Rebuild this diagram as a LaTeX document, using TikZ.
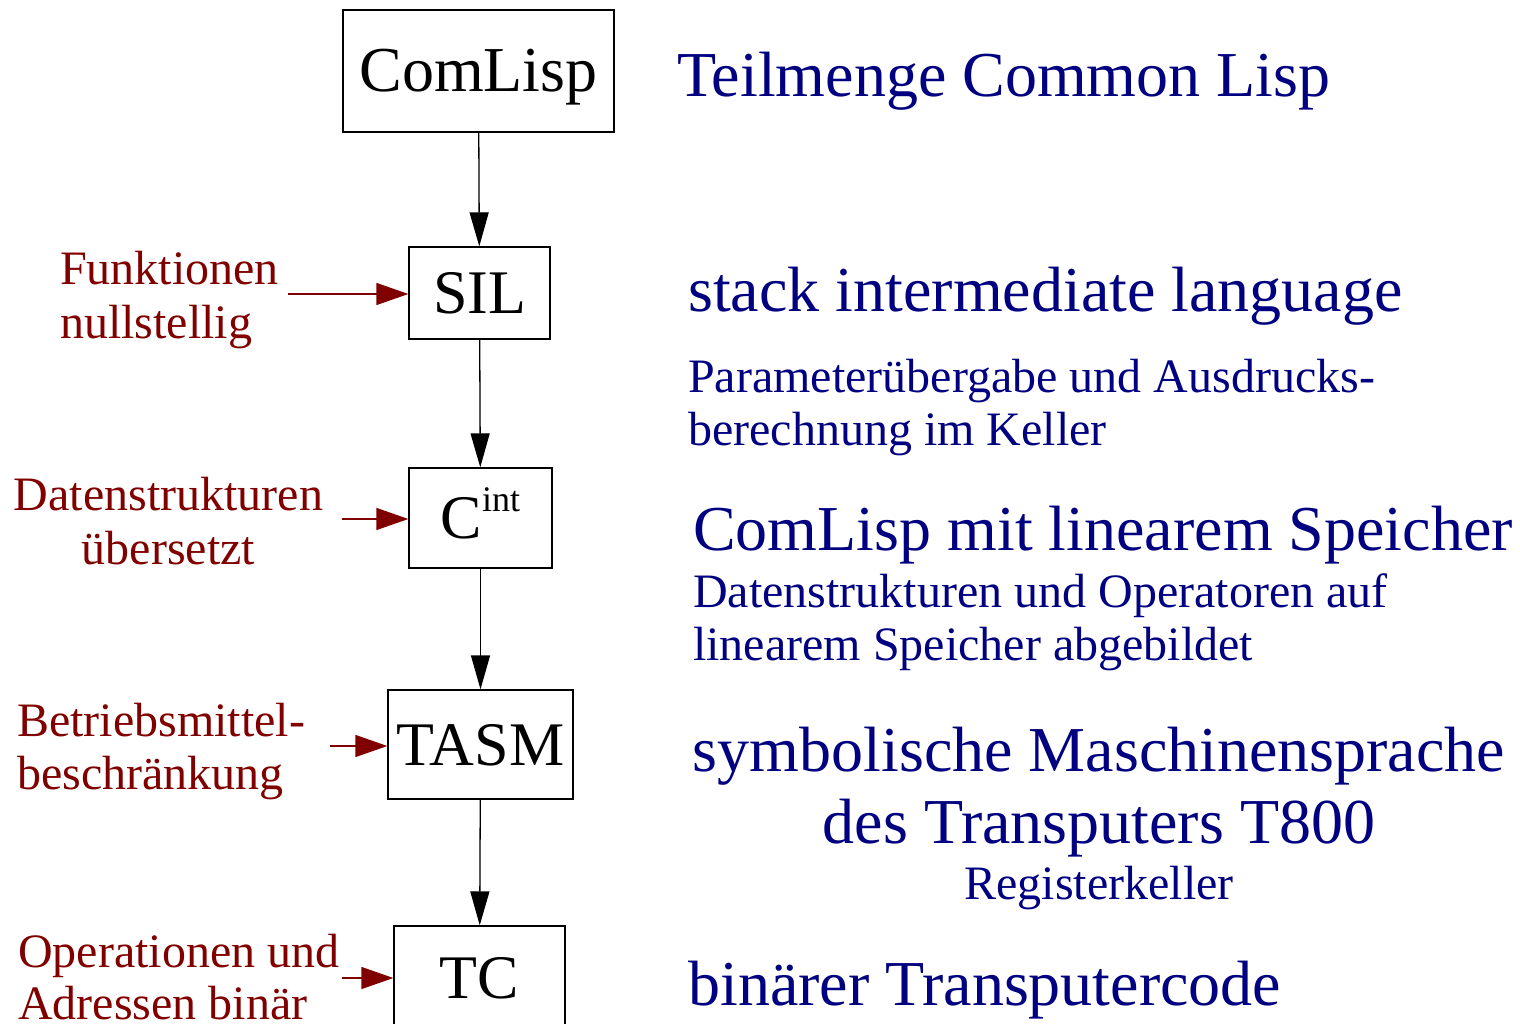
\documentclass[tikz,border=0pt]{standalone}
\usepackage{fontspec}
\setmainfont{Liberation Serif}
\usetikzlibrary{arrows.meta}
\definecolor{labelred}{HTML}{800000}
\definecolor{textblue}{HTML}{000080}
\tikzset{
  stage/.style={draw=black, line width=1.3pt, inner sep=0pt, text height=41pt, text depth=0pt,
    font=\fontsize{62}{70}\selectfont},
  flow/.style={line width=1.3pt, -{Triangle[length=34pt, width=19pt]}},
  feed/.style={draw=labelred, line width=1.3pt, -{Triangle[length=32pt, width=22pt, fill=labelred]}},
  side/.style={text=labelred, inner sep=0pt, font=\fontsize{48}{54}\selectfont},
  big/.style={text=textblue, inner sep=0pt, font=\fontsize{64}{72}\selectfont},
  small/.style={text=textblue, inner sep=0pt, font=\fontsize{48}{54}\selectfont}
}
\begin{document}
\begin{tikzpicture}[x=1pt, y=-1pt]
\useasboundingbox (0,0) rectangle (1520,1024);

% compiler stages
\node[stage, minimum width=271, minimum height=122, text height=42pt, font=\fontsize{64}{70}\selectfont] (comlisp) at (478.5,71) {ComLisp};
\node[stage, minimum width=141, minimum height=92] (sil) at (479.5,293) {SIL};
\node[stage, minimum width=143, minimum height=100] (cint) at (480.5,518)
  {C\raisebox{27pt}{\fontsize{36}{36}\selectfont int}};
\node[stage, minimum width=185, minimum height=109] (tasm) at (480.5,744.5) {TASM};
\node[stage, minimum width=171, minimum height=104] (tc) at (479.5,978) {TC};

\draw[flow] (comlisp) -- (sil);
\draw[flow] (sil) -- (cint);
\draw[flow] (cint) -- (tasm);
\draw[flow] (tasm) -- (tc);

% restrictions entering each stage
\node[side, anchor=base west] (f1) at (60,284) {Funktionen};
\node[side, anchor=base west] (f2) at (60,338) {nullstellig};
\node[side, anchor=base] (d1) at (168.5,510) {Datenstrukturen};
\node[side, anchor=base] (d2) at (168.5,564) {übersetzt};
\node[side, anchor=base west] (b1) at (17,736) {Betriebsmittel-};
\node[side, anchor=base west] (b2) at (17,789) {beschränkung};
\node[side, anchor=base west] (o1) at (18,967) {Operationen und};
\node[side, anchor=base west] (o2) at (18,1019) {Adressen binär};

\coordinate (fs) at (288,294);
\coordinate (ds) at (342,519);
\coordinate (bs) at (330,746);
\coordinate (os) at (342,978);
\draw[feed] (fs) -- (fs -| sil.west);
\draw[feed] (ds) -- (ds -| cint.west);
\draw[feed] (bs) -- (bs -| tasm.west);
\draw[feed] (os) -- (os -| tc.west);

% language descriptions
\node[big, anchor=base west] (t1) at (677,97) {Teilmenge Common Lisp};
\node[big, anchor=base west] (t2) at (688,312) {stack intermediate language};
\node[small, anchor=base west] (t3) at (688,392) {Parameterübergabe und Ausdrucks-};
\node[small, anchor=base west] (t4) at (688,445) {berechnung im Keller};
\node[big, anchor=base west] (t5) at (693,550) {ComLisp mit linearem Speicher};
\node[small, anchor=base west] (t6) at (693,607) {Datenstrukturen und Operatoren auf};
\node[small, anchor=base west] (t7) at (693,660) {linearem Speicher abgebildet};
\node[big, anchor=base] (t8) at (1099,771) {symbolische Maschinensprache};
\node[big, anchor=base] (t9) at (1099,843) {des Transputers T800};
\node[small, anchor=base] (t10) at (1099,899) {Registerkeller};
\node[big, anchor=base west] (t11) at (688,1005) {binärer Transputercode};
\end{tikzpicture}
\end{document}
